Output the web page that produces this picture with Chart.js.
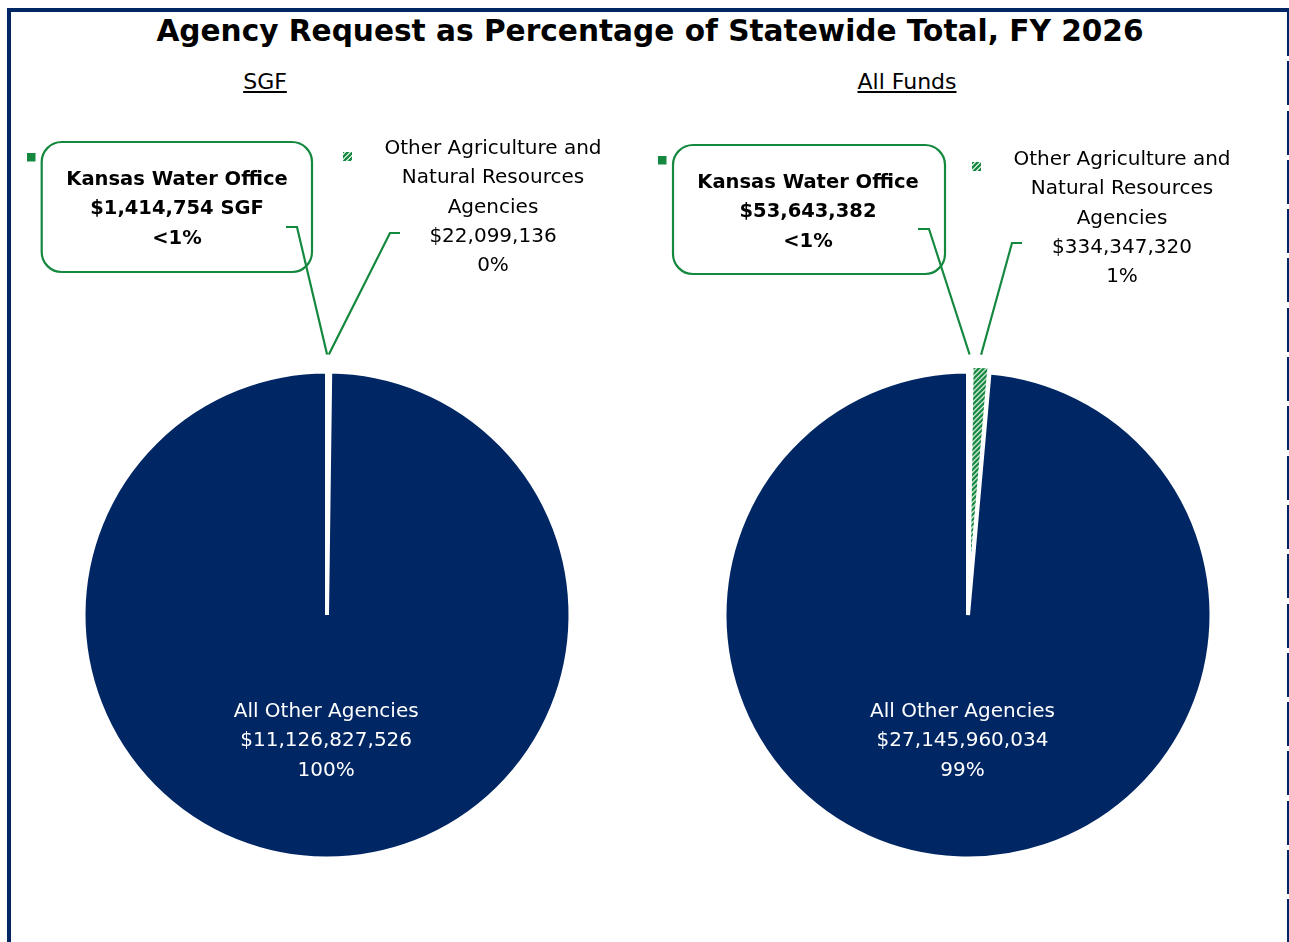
<!DOCTYPE html>
<html>
<head>
<meta charset="utf-8">
<title>Agency Request as Percentage of Statewide Total, FY 2026</title>
<script src="https://cdn.jsdelivr.net/npm/chart.js@4.4.1/dist/chart.umd.min.js"></script>
<style>
  html, body { margin: 0; padding: 0; background: #fff; }
  body { width: 1289px; height: 942px; position: relative; overflow: hidden; font-family: "DejaVu Sans", sans-serif; }
  .frame-top { position: absolute; left: 7px; top: 8px; width: 1282px; height: 3.5px; background: #002664; }
  .frame-left { position: absolute; left: 7px; top: 8px; width: 3.5px; height: 934px; background: #002664; }
  .frame-right { position: absolute; left: 1287px; top: 12px; width: 1.5px; height: 930px;
    background: repeating-linear-gradient(to bottom, #002664 0px, #002664 44px, transparent 44px, transparent 49.3px); }
  #title { position: absolute; left: 0; top: 14.2px; width: 1300px; text-align: center;
    font-weight: bold; font-size: 29.6px; line-height: 34px; color: #000; white-space: nowrap; }
  .sub { position: absolute; top: 68.7px; font-size: 22px; line-height: 26px; text-decoration: underline;
    transform: translateX(-50%); white-space: nowrap; color: #000; }
  canvas { position: absolute; left: 0; top: 0; }
</style>
</head>
<body>
<div class="frame-top"></div>
<div class="frame-left"></div>
<div class="frame-right"></div>
<div id="title">Agency Request as Percentage of Statewide Total, FY 2026</div>
<div class="sub" style="left:265px">SGF</div>
<div class="sub" style="left:907px">All Funds</div>
<canvas id="sgf" width="1289" height="942"></canvas>
<canvas id="allFunds" width="1289" height="942"></canvas>
<script>
// data
const categories = [
    ['Kansas Water Office'],
    ['Other Agriculture and', 'Natural Resources', 'Agencies'],
    ['All Other Agencies']
];
const sgfValues = [1414754, 22099136, 11126827526];
const allFundsValues = [53643382, 334347320, 27145960034];
const sgfPctLabels = ['<1%', '0%', '100%'];
const allFundsPctLabels = ['<1%', '1%', '99%'];

const navy = '#002664';
const green = '#15883F';

function makeHatch() {
    const s = 5;
    const c = document.createElement('canvas');
    c.width = s;
    c.height = s;
    const g = c.getContext('2d');
    g.fillStyle = '#fff';
    g.fillRect(0, 0, s, s);
    g.strokeStyle = green;
    g.lineWidth = 2.4;
    g.beginPath();
    g.moveTo(-1, s + 1); g.lineTo(s + 1, -1);
    g.moveTo(-1, 1); g.lineTo(1, -1);
    g.moveTo(s - 1, s + 1); g.lineTo(s + 1, s - 1);
    g.stroke();
    return g.createPattern(c, 'repeat');
}
const hatch = makeHatch();

function money(v) {
    return '$' + v.toLocaleString('en-US');
}

function roundRect(ctx, x, y, w, h, r) {
    ctx.beginPath();
    ctx.moveTo(x + r, y);
    ctx.lineTo(x + w - r, y);
    ctx.arcTo(x + w, y, x + w, y + r, r);
    ctx.lineTo(x + w, y + h - r);
    ctx.arcTo(x + w, y + h, x + w - r, y + h, r);
    ctx.lineTo(x + r, y + h);
    ctx.arcTo(x, y + h, x, y + h - r, r);
    ctx.lineTo(x, y + r);
    ctx.arcTo(x, y, x + r, y, r);
    ctx.closePath();
}

// tip of an exploded slice, from the arc element geometry
function sliceTip(arc) {
    const mid = (arc.startAngle + arc.endAngle) / 2;
    const off = arc.options.offset || 0;
    const r = arc.outerRadius + off * 1.25 + 2;
    return [arc.x + Math.cos(mid) * r, arc.y + Math.sin(mid) * r];
}

function leader(ctx, sx, sy, ex, tip) {
    ctx.beginPath();
    ctx.moveTo(sx, sy);
    ctx.lineTo(ex, sy);
    ctx.lineTo(tip[0], tip[1]);
    ctx.strokeStyle = green;
    ctx.lineWidth = 2.2;
    ctx.stroke();
}

const calloutPlugin = {
    id: 'callouts',
    afterDatasetsDraw(chart, args, o) {
        const ctx = chart.ctx;
        const arcs = chart.getDatasetMeta(0).data;
        const values = chart.data.datasets[0].data;
        const pct = o.pct;
        ctx.save();
        ctx.textAlign = 'center';
        ctx.textBaseline = 'alphabetic';

        // Kansas Water Office callout box
        ctx.fillStyle = green;
        ctx.fillRect(o.key[0], o.key[1], 8.5, 8.5);
        roundRect(ctx, o.box.x, o.box.y, o.box.w, o.box.h, 20);
        ctx.strokeStyle = green;
        ctx.lineWidth = 2.2;
        ctx.stroke();
        ctx.fillStyle = '#000';
        ctx.font = 'bold 19.5px "DejaVu Sans"';
        const kLines = [categories[0][0], money(values[0]) + o.suffix, pct[0]];
        kLines.forEach((t, i) => ctx.fillText(t, o.box.cx, o.box.base + i * 29.3));
        leader(ctx, o.boxLeader[0], o.boxLeader[1], o.boxLeader[2], sliceTip(arcs[0]));

        // Other Agriculture label
        ctx.fillStyle = hatch;
        ctx.fillRect(o.hatchKey[0], o.hatchKey[1], 9, 9);
        ctx.fillStyle = '#000';
        ctx.font = '20px "DejaVu Sans"';
        const oLines = categories[1].concat([money(values[1]), pct[1]]);
        oLines.forEach((t, i) => ctx.fillText(t, o.other.cx, o.other.base + i * 29.3));
        leader(ctx, o.otherLeader[0], o.otherLeader[1], o.otherLeader[2], sliceTip(arcs[1]));

        // All Other Agencies label inside the slice
        const a = arcs[2];
        const mid = (a.startAngle + a.endAngle) / 2;
        const px = a.x + Math.cos(mid) * a.outerRadius * 0.511;
        const py = a.y + Math.sin(mid) * a.outerRadius * 0.511;
        ctx.fillStyle = '#fff';
        const aLines = categories[2].concat([money(values[2]), pct[2]]);
        aLines.forEach((t, i) => ctx.fillText(t, px, py + 7 + (i - 1) * 29.3));
        ctx.restore();
    }
};

function makePie(id, values, padLeft, padRight, callouts) {
    return new Chart(document.getElementById(id), {
        type: 'pie',
        data: {
            labels: categories,
            datasets: [{
                data: values,
                backgroundColor: [green, hatch, navy],
                borderColor: '#fff',
                borderWidth: 4,
                offset: [12, 12, 0]
            }]
        },
        options: {
            responsive: false,
            animation: false,
            events: [],
            radius: 243.5,
            layout: { padding: { top: 288, bottom: 0, left: padLeft, right: padRight } },
            plugins: {
                legend: { display: false },
                tooltip: { enabled: false },
                callouts: callouts
            }
        },
        plugins: [calloutPlugin]
    });
}

makePie('sgf', sgfValues, 0, 635, {
    pct: sgfPctLabels,
    suffix: ' SGF',
    key: [27, 153],
    box: { x: 41.7, y: 142, w: 270.3, h: 130, cx: 177, base: 185 },
    boxLeader: [286, 227, 297],
    hatchKey: [343, 152],
    other: { cx: 493, base: 154 },
    otherLeader: [400, 233, 390]
});

makePie('allFunds', allFundsValues, 647, 0, {
    pct: allFundsPctLabels,
    suffix: '',
    key: [658, 156],
    box: { x: 673, y: 145, w: 272, h: 129, cx: 808, base: 188 },
    boxLeader: [918, 229, 929],
    hatchKey: [972, 162],
    other: { cx: 1122, base: 165 },
    otherLeader: [1022, 243, 1012]
});
</script>
</body>
</html>
